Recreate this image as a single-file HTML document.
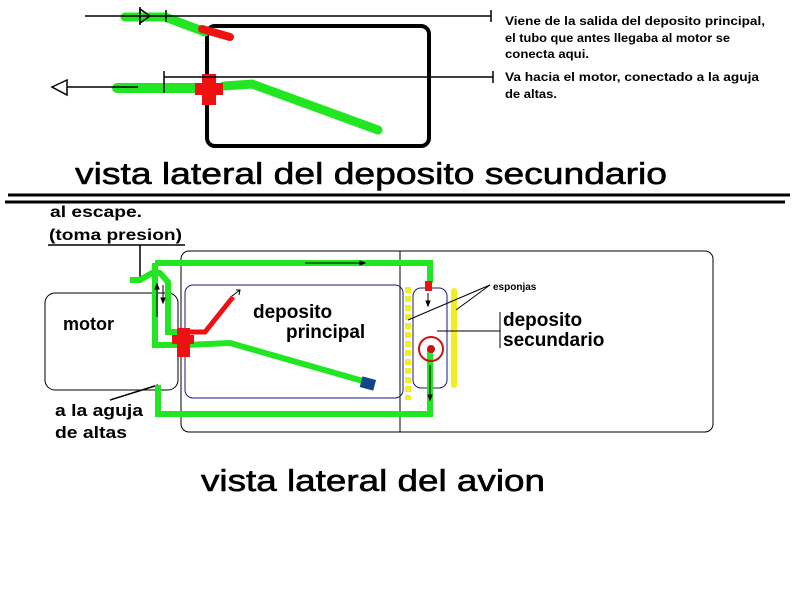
<!DOCTYPE html>
<html><head><meta charset="utf-8"><style>
html,body{margin:0;padding:0;background:#fff;width:800px;height:600px;overflow:hidden}
svg{display:block}
text{font-family:"Liberation Sans",Arial,sans-serif;font-weight:bold;fill:#000}
</style></head><body>
<svg width="800" height="600" viewBox="0 0 800 600" xmlns="http://www.w3.org/2000/svg">
<!-- TOP VIEW -->
<rect x="207" y="26" width="222" height="120" rx="8" fill="none" stroke="#000" stroke-width="4"/>
<g stroke-linecap="round" fill="none">
<polyline points="125,17 165,17 205,32" stroke="#22e622" stroke-width="9"/>
<line x1="202" y1="29" x2="230" y2="37" stroke="#ee1111" stroke-width="8"/>
<line x1="117" y1="88" x2="196" y2="88" stroke="#22e622" stroke-width="10"/>
<polyline points="224,86 252,84 378,130" stroke="#22e622" stroke-width="9"/>
</g>
<rect x="202" y="74" width="14" height="31" fill="#ee1111"/>
<rect x="195" y="83" width="28" height="12" fill="#ee1111"/>
<g stroke="#000" stroke-width="1.5" fill="none">
<line x1="85" y1="16" x2="491" y2="16"/><line x1="166" y1="10" x2="166" y2="22"/><line x1="491" y1="10" x2="491" y2="22"/>
<polygon points="140,9 150,16 140,23" fill="none"/><line x1="140" y1="7" x2="140" y2="25"/>
<line x1="164" y1="77" x2="493" y2="77"/><line x1="164" y1="71" x2="164" y2="93"/><line x1="493" y1="71" x2="493" y2="83"/>
<line x1="55" y1="87" x2="138" y2="87"/><polygon points="52,87 67,80 67,95" fill="#fff"/>
</g>
<text font-size="11.5" x="505" y="25" textLength="260" lengthAdjust="spacingAndGlyphs">Viene de la salida del deposito principal,</text>
<text font-size="11.5" x="505" y="42" textLength="225" lengthAdjust="spacingAndGlyphs">el tubo que antes llegaba al motor se</text>
<text font-size="11.5" x="505" y="58" textLength="84" lengthAdjust="spacingAndGlyphs">conecta aqui.</text>
<text font-size="11.5" x="505" y="81" textLength="254" lengthAdjust="spacingAndGlyphs">Va hacia el motor, conectado a la aguja</text>
<text font-size="11.5" x="505" y="98" textLength="52" lengthAdjust="spacingAndGlyphs">de altas.</text>
<text font-size="31" x="75" y="184" textLength="592" lengthAdjust="spacingAndGlyphs" style="font-weight:normal;stroke:#000;stroke-width:0.6">vista lateral del deposito secundario</text>
<line x1="8" y1="195" x2="790" y2="195" stroke="#000" stroke-width="3"/>
<line x1="5" y1="202" x2="785" y2="202" stroke="#000" stroke-width="3"/>

<!-- BOTTOM VIEW -->
<text font-size="16" x="50" y="217" textLength="92" lengthAdjust="spacingAndGlyphs">al escape.</text>
<text font-size="16" x="49" y="240" textLength="133" lengthAdjust="spacingAndGlyphs">(toma presion)</text>
<g stroke="#000" fill="none" stroke-width="1">
<line x1="48" y1="245" x2="185" y2="245" stroke-width="1.5"/>
<line x1="140" y1="245" x2="140" y2="279" stroke-width="1.5"/>
<rect x="181" y="251" width="532" height="181" rx="8"/>
<line x1="400" y1="251" x2="400" y2="432"/>
<rect x="45" y="293" width="133" height="97" rx="10"/>
<line x1="110" y1="400" x2="158" y2="385" stroke-width="1.5"/>
</g>
<rect x="185" y="285" width="218" height="113" rx="8" fill="none" stroke="#1a1a7a" stroke-width="1"/>
<rect x="413" y="288" width="34" height="100" rx="8" fill="none" stroke="#1a1a7a" stroke-width="1"/>
<!-- yellow -->
<line x1="408" y1="287" x2="408" y2="400" stroke="#f0f020" stroke-width="6" stroke-dasharray="6,3"/>
<line x1="454" y1="291" x2="454" y2="385" stroke="#f0f020" stroke-width="6" stroke-linecap="round"/>
<!-- green pipes -->
<g fill="none" stroke="#22e622" stroke-width="6" stroke-linejoin="miter">
<polyline points="155,263 430,263 430,283"/>
<polyline points="155,263 155,345 185,345 230,343 370,383"/>
<polyline points="130,280 140,280 152,273 160,273 168,282 168,332 180,332"/>
<polyline points="158,385 158,414 430,414 430,350"/>
</g>
<!-- red -->
<g fill="none" stroke="#ee1111" stroke-width="5">
<polyline points="188,332 205,332 233,297"/>
</g>
<path d="M232,296 L240,290 M236,290 L240,290 L239,295" stroke="#000" stroke-width="1" fill="none"/>
<rect x="177" y="328" width="13" height="29" fill="#ee1111"/>
<rect x="172" y="335" width="22" height="9" fill="#ee1111"/>
<rect x="425" y="281" width="7" height="10" fill="#ee1111"/>
<circle cx="431" cy="349" r="12" fill="none" stroke="#cc1111" stroke-width="2"/>
<circle cx="431" cy="349" r="4" fill="#cc1111"/>
<rect x="361" y="378" width="14" height="11" fill="#114488" transform="rotate(15 368 383)"/>
<!-- small arrows -->
<g stroke="#000" stroke-width="1" fill="#000">
<line x1="305" y1="263" x2="362" y2="263"/><polygon points="365,263 360,261 360,265"/>
<line x1="157" y1="317" x2="157" y2="287"/><polygon points="157,284 155,289 159,289"/>
<line x1="163" y1="285" x2="163" y2="300"/><polygon points="163,303 161,298 165,298"/>
<line x1="428" y1="293" x2="428" y2="303"/><polygon points="428,306 426,301 430,301"/>
<line x1="430" y1="365" x2="430" y2="397"/><polygon points="430,400 428,395 432,395"/>
<line x1="490" y1="285" x2="408" y2="320"/><line x1="490" y1="285" x2="456" y2="310"/>
<line x1="500" y1="312" x2="500" y2="348"/><line x1="500" y1="331" x2="437" y2="331"/>
</g>
<text font-size="18" x="63" y="330">motor</text>
<text font-size="17" x="55" y="416" textLength="88" lengthAdjust="spacingAndGlyphs">a la aguja</text>
<text font-size="17" x="55" y="438" textLength="72" lengthAdjust="spacingAndGlyphs">de altas</text>
<text font-size="19" x="253" y="318">deposito</text>
<text font-size="19" x="286" y="338">principal</text>
<text font-size="10" x="493" y="290">esponjas</text>
<text font-size="19" x="503" y="326">deposito</text>
<text font-size="19" x="503" y="346">secundario</text>
<text font-size="31" x="201" y="491" textLength="344" lengthAdjust="spacingAndGlyphs" style="font-weight:normal;stroke:#000;stroke-width:0.6">vista lateral del avion</text>
</svg>
</body></html>
